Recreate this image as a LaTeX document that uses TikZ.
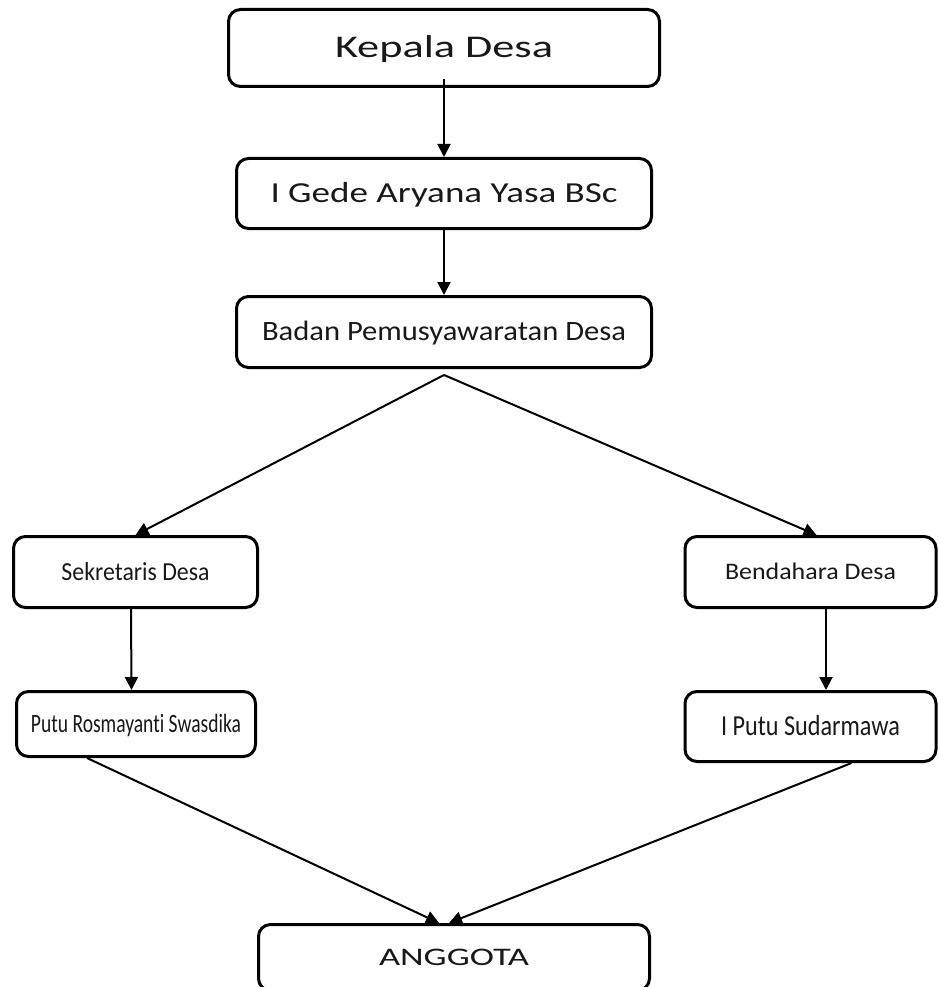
\documentclass[tikz,border=0pt]{standalone}
\usepackage{fontspec}
\setmainfont{Carlito}[Ligatures=NoCommon]
\usepackage{graphicx}
\usetikzlibrary{arrows.meta,calc}
\newcommand{\fitt}[3]{\resizebox{#1}{\height}{\fontsize{#2}{#2}\selectfont #3}}
\begin{document}
\begin{tikzpicture}[x=1pt,y=-1pt,
  box/.style={draw=black, line width=3pt, rounded corners=12pt, fill=white,
    inner sep=0pt, text depth=0pt, text=black!90},
  arr/.style={line width=2pt, -{Triangle[length=13pt,width=13pt]}}]
\useasboundingbox (0,0) rectangle (938,987);
\clip (0,0) rectangle (938,987);
\fill[white] (0,0) rectangle (938,987);
% boxes
\node[box, minimum width=431pt, minimum height=77pt, text height=20pt] (kepala) at (444,48)
  {\fitt{218pt}{31.6pt}{Kepala Desa}};
\node[box, minimum width=415pt, minimum height=70pt, text height=18.3pt] (gede) at (444,193.5)
  {\fitt{347pt}{29pt}{I Gede Aryana Yasa BSc}};
\node[box, minimum width=415pt, minimum height=71pt, text height=17.7pt] (badan) at (444,332)
  {\fitt{364pt}{28pt}{Badan Pemusyawaratan Desa}};
\node[box, minimum width=244pt, minimum height=71pt, text height=16.5pt] (sek) at (135.5,572)
  {\fitt{148pt}{26pt}{Sekretaris Desa}};
\node[box, minimum width=251pt, minimum height=71pt, text height=15pt] (bend) at (810.5,572)
  {\fitt{171pt}{23.7pt}{Bendahara Desa}};
\node[box, minimum width=239pt, minimum height=65pt, text height=16.7pt] (putu) at (136,724)
  {\fitt{210pt}{26.4pt}{Putu Rosmayant\kern0pt i Swasdika}};
\node[box, minimum width=251pt, minimum height=70pt, text height=18.3pt] (sud) at (810.5,726.5)
  {\fitt{179pt}{29pt}{I Putu Sudarmawa}};
\node[box, minimum width=391pt, minimum height=66pt, text height=16pt] (angg) at (454,957.5)
  {\fitt{150pt}{25.3pt}{ANGGOTA}};
% connectors
\coordinate (apex) at ([yshift=-6pt]badan.south);
\draw[arr] ([yshift=9pt]kepala.south) -- (gede.north);
\draw[arr] (gede.south) -- (badan.north);
\draw[arr] (apex) -- (sek.north);
\draw[arr] (apex) -- ([xshift=6pt]bend.north);
\draw[arr] ([xshift=-4.5pt]sek.south) -- ([xshift=-4.5pt]putu.north);
\draw[arr] ([xshift=15.5pt]bend.south) -- ([xshift=15.5pt]sud.north);
\draw[arr] ([xshift=-49pt]putu.south) -- ([xshift=-15pt]angg.north);
\draw[arr] ([xshift=41pt]sud.south) -- ([xshift=-5pt]angg.north);
\end{tikzpicture}
\end{document}
